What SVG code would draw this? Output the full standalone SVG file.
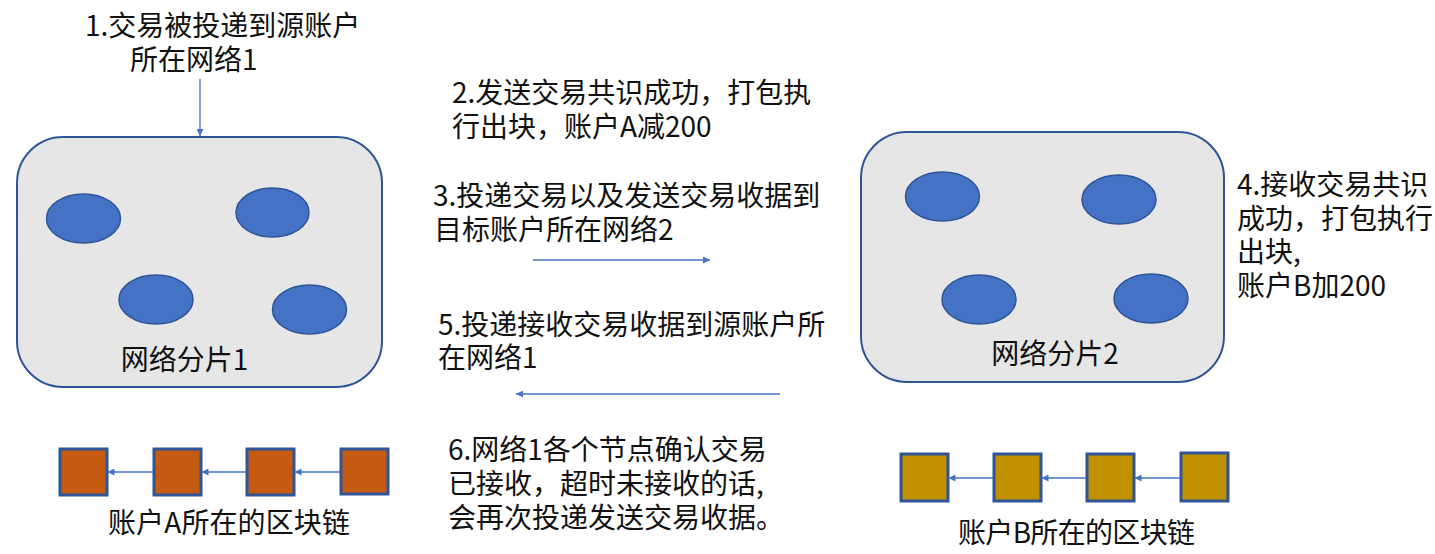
<svg xmlns="http://www.w3.org/2000/svg" width="1435" height="554" viewBox="0 0 1435 554">
<style>
.t{font-family:"Noto Sans CJK SC","Noto Sans",sans-serif;font-size:28px;fill:#111}
.shard{fill:#e6e6e6;stroke:#2f5597;stroke-width:2}
.node{fill:#4472c4;stroke:#2f5597;stroke-width:1.5}
.ba{fill:#c55a11;stroke:#2f5597;stroke-width:3}
.bb{fill:#bf9000;stroke:#2f5597;stroke-width:3}
.c{stroke:#4472c4;stroke-width:1.3;fill:none;marker-end:url(#ah)}
</style>
<defs>
<marker id="ah" viewBox="0 0 10 10" refX="10" refY="5" markerWidth="7" markerHeight="7" orient="auto" markerUnits="userSpaceOnUse">
<path d="M0,0 L10,5 L0,10 z" fill="#4472c4"/>
</marker>
</defs>
<rect width="1435" height="554" fill="#fff"/>
<g id="shard1">
<rect class="shard" x="17" y="137" width="365" height="250" rx="46" ry="46"/>
<ellipse class="node" cx="83.5" cy="218.5" rx="37" ry="24.5"/>
<ellipse class="node" cx="272.5" cy="212.5" rx="36.5" ry="24.5"/>
<ellipse class="node" cx="156" cy="299.5" rx="37" ry="24.5"/>
<ellipse class="node" cx="309.5" cy="309.5" rx="37" ry="24.5"/>
<text class="t" x="184.5" y="370" text-anchor="middle">网络分片1</text>
</g>
<g id="shard2">
<rect class="shard" x="861" y="132" width="363" height="250" rx="46" ry="46"/>
<ellipse class="node" cx="942.5" cy="196.5" rx="37" ry="24.5"/>
<ellipse class="node" cx="1119" cy="199.5" rx="37" ry="24.5"/>
<ellipse class="node" cx="979" cy="299.5" rx="37" ry="24.5"/>
<ellipse class="node" cx="1151" cy="298.5" rx="37" ry="24.5"/>
<text class="t" x="1055" y="364" text-anchor="middle">网络分片2</text>
</g>
<g id="chainA">
<rect class="ba" x="60" y="449" width="47" height="46"/>
<rect class="ba" x="154" y="449" width="47" height="46"/>
<rect class="ba" x="247" y="449" width="47" height="46"/>
<rect class="ba" x="341" y="449" width="47" height="45"/>
<text class="t" x="108" y="533" textLength="242" lengthAdjust="spacing">账户A所在的区块链</text>
</g>
<g id="chainB">
<rect class="bb" x="901" y="454" width="47" height="47"/>
<rect class="bb" x="994" y="454" width="47" height="47"/>
<rect class="bb" x="1087" y="454" width="47" height="47"/>
<rect class="bb" x="1181" y="453" width="47" height="48"/>
<text class="t" x="958" y="543" textLength="237" lengthAdjust="spacing">账户B所在的区块链</text>
</g>
<g id="label1"><text class="t"><tspan x="85" y="36">1.交易被投递到源账户</tspan><tspan x="130" y="70">所在网络1</tspan></text></g>
<g id="label2"><text class="t"><tspan x="452" y="103">2.发送交易共识成功，打包执</tspan><tspan x="452" y="137">行出块，账户A减200</tspan></text></g>
<g id="label3"><text class="t"><tspan x="433" y="206">3.投递交易以及发送交易收据到</tspan><tspan x="434" y="240">目标账户所在网络2</tspan></text></g>
<g id="label4"><text class="t"><tspan x="1237" y="195">4.接收交易共识</tspan><tspan x="1237" y="229">成功，打包执行</tspan><tspan x="1237" y="262">出块,</tspan><tspan x="1237" y="296">账户B加200</tspan></text></g>
<g id="label5"><text class="t"><tspan x="438" y="335">5.投递接收交易收据到源账户所</tspan><tspan x="438" y="368">在网络1</tspan></text></g>
<g id="label6"><text class="t"><tspan x="448" y="460">6.网络1各个节点确认交易</tspan><tspan x="448" y="494">已接收，超时未接收的话,</tspan><tspan x="448" y="528">会再次投递发送交易收据。</tspan></text></g>
<g id="connectors">
<line class="c" x1="200" y1="79" x2="200" y2="136"/>
<line class="c" x1="533" y1="260" x2="710" y2="260"/>
<line class="c" x1="780" y1="394" x2="516" y2="394"/>
<line class="c" x1="153" y1="472" x2="107.5" y2="472"/>
<line class="c" x1="246" y1="472" x2="201.5" y2="472"/>
<line class="c" x1="340" y1="472" x2="294.5" y2="472"/>
<line class="c" x1="993" y1="478" x2="948.5" y2="478"/>
<line class="c" x1="1086" y1="478" x2="1041.5" y2="478"/>
<line class="c" x1="1180" y1="478" x2="1134.5" y2="478"/>
</g>
</svg>
